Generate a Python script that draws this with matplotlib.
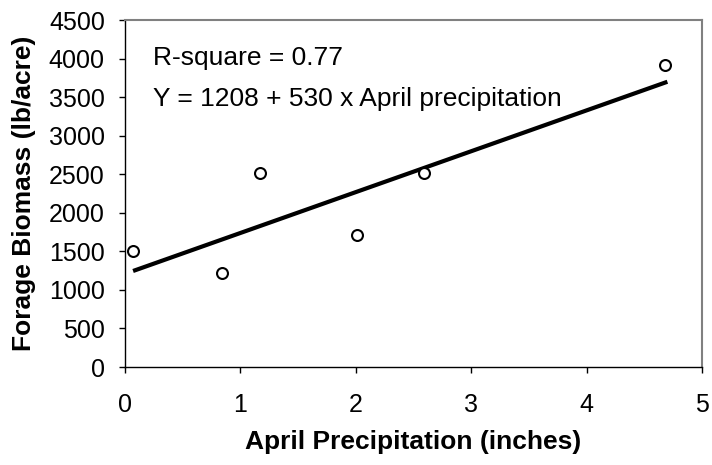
import matplotlib
matplotlib.use("Agg")
import matplotlib.pyplot as plt
import numpy as np

plt.rcParams['font.family'] = ['Liberation Sans', 'DejaVu Sans']

precip = [0.07, 0.84, 1.17, 2.01, 2.59, 4.68]
biomass = [1510, 1215, 2520, 1715, 2520, 3910]
intercept = 1208
slope = 530
line_x = [0.07, 4.70]
xticks = [0, 1, 2, 3, 4, 5]
yticks = [0, 500, 1000, 1500, 2000, 2500, 3000, 3500, 4000, 4500]

W, H = 712, 465
fig = plt.figure(figsize=(W / 100, H / 100), dpi=100)
L, R, T, B = 125, 702, 20, 367
ax = fig.add_axes([L / W, 1 - B / H, (R - L) / W, (B - T) / H])

lx = np.array(line_x)
ax.plot(lx, intercept + slope * lx, color='black', lw=3.0, solid_capstyle='butt', zorder=2)
ax.scatter(precip, biomass, s=62, facecolors='white', edgecolors='black', linewidths=1.5, zorder=3)

ax.set_xlim(0, 5)
ax.set_ylim(0, 4500)
ax.set_xticks(xticks)
ax.set_yticks(yticks)
ax.tick_params(direction='out', length=4.5, width=1, labelsize=18, colors='black')
ax.tick_params(axis='y', pad=10)
ax.tick_params(axis='x', pad=14)

for s in ['top', 'right']:
    ax.spines[s].set_color('#808080')
    ax.spines[s].set_linewidth(1.5)
for s in ['left', 'bottom']:
    ax.spines[s].set_color('black')
    ax.spines[s].set_linewidth(1)

ax.set_xlabel('April Precipitation (inches)', fontsize=19, fontweight='bold')
ax.set_ylabel('Forage Biomass (lb/acre)', fontsize=19, fontweight='bold')
ax.xaxis.set_label_coords(0.5, (B - 442) / (B - T))
ax.xaxis.label.set_va('center')
ax.yaxis.set_label_coords((24 - L) / (R - L), 0.5)
ax.yaxis.label.set_va('center')

fig.text(153 / W, 1 - 58 / H, 'R-square = 0.77', fontsize=19, va='center', ha='left')
fig.text(153 / W, 1 - 99 / H, 'Y = 1208 + 530 x April precipitation', fontsize=19, va='center', ha='left')

fig.savefig('out.png', dpi=100)
